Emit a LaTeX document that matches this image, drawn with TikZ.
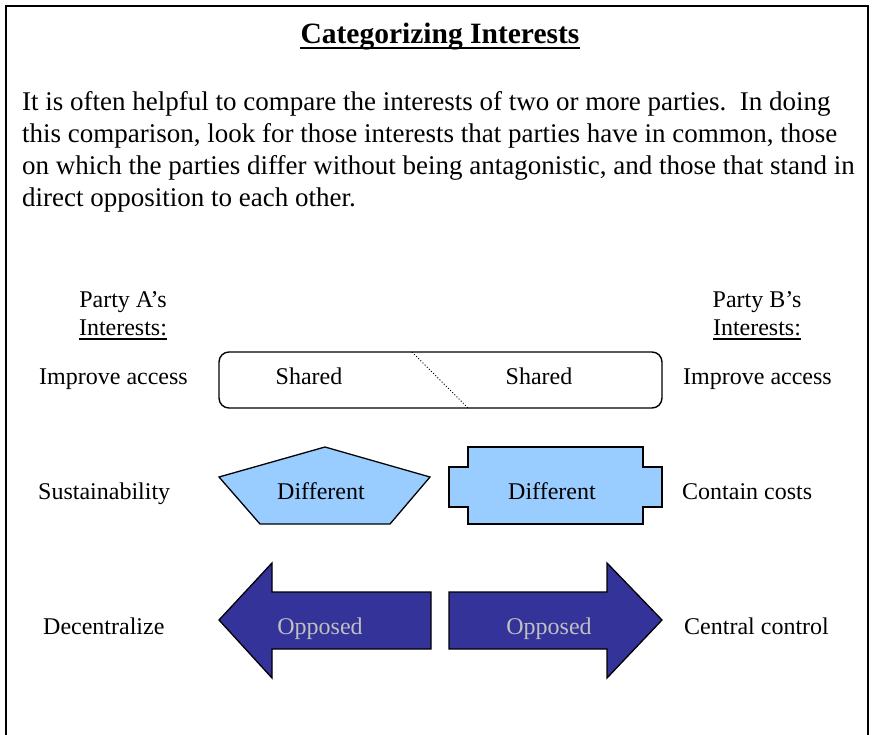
\documentclass[tikz,border=0pt]{standalone}
\usepackage{fontspec}
\setmainfont{Liberation Serif}
\definecolor{softblue}{HTML}{99CCFF}
\definecolor{deepblue}{HTML}{333399}
\definecolor{lightgrey}{HTML}{C0C0C0}
\begin{document}
\begin{tikzpicture}[x=1pt,y=-1pt,
  bodyline/.style={font=\fontsize{27}{32}\selectfont, inner sep=0pt, anchor=base west},
  lbl/.style={font=\fontsize{24}{28}\selectfont, inner sep=0pt, anchor=base},
  sidelbl/.style={lbl, anchor=base west},
  shapeline/.style={draw=black, line width=1.3pt, line join=miter},
  uline/.style={line width=1.2pt}]
\useasboundingbox (0,0) rectangle (875,735);

% open frame (no bottom edge)
\draw[line width=2pt] (6,735) -- (6,6) -- (868,6) -- (868,735);

% heading
\node[font=\bfseries\fontsize{29.5}{34}\selectfont, inner sep=0pt, anchor=base] (title) at (440,44) {Categorizing Interests};
\draw[line width=1.6pt] ([yshift=-4pt]title.base west) -- ([yshift=-4pt]title.base east);

% introductory paragraph
\node[bodyline] (p1) at (22,111) {It is often helpful to compare the interests of two or more parties.\ \ In doing};
\node[bodyline] (p2) at (22,143) {this comparison, look for those interests that parties have in common, those};
\node[bodyline] (p3) at (22,175) {on which the parties differ without being antagonistic, and those that stand in};
\node[bodyline] (p4) at (22,207) {direct opposition to each other.};

% column headings
\node[lbl] (pa) at (123,307) {Party A’s};
\node[lbl] (ia) at (123,335) {Interests:};
\draw[uline] ([yshift=-4pt]ia.base west) -- ([yshift=-4pt]ia.base east);
\node[lbl] (pb) at (757,307) {Party B’s};
\node[lbl] (ib) at (757,335) {Interests:};
\draw[uline] ([yshift=-4pt]ib.base west) -- ([yshift=-4pt]ib.base east);

% row 1: shared
\draw[line width=1.4pt, rounded corners=10pt] (219,352) rectangle (662,408);
\draw[dotted, line width=1pt] (412,352) -- (468,408);
\node[lbl] (s1) at (309,384) {Shared};
\node[lbl] (s2) at (539,384) {Shared};
\node[sidelbl] (la1) at (39,384) {Improve access};
\node[sidelbl] (lb1) at (683,384) {Improve access};

% row 2: different
\draw[shapeline, fill=softblue] (325,447) -- (430,477) -- (390,524) -- (260,524) -- (219,477) -- cycle;
\draw[shapeline, fill=softblue] (468,447) -- (643,447) -- (643,467) -- (662,467) -- (662,507) -- (643,507)
  -- (643,524) -- (468,524) -- (468,507) -- (449,507) -- (449,467) -- (468,467) -- cycle;
\node[lbl] (d1) at (321,499) {Different};
\node[lbl] (d2) at (552,499) {Different};
\node[sidelbl] (la2) at (38,499) {Sustainability};
\node[sidelbl] (lb2) at (682,499) {Contain costs};

% row 3: opposed
\draw[shapeline, fill=deepblue] (219,620) -- (272,563) -- (272,592) -- (431,592) -- (431,649) -- (272,649) -- (272,678) -- cycle;
\draw[shapeline, fill=deepblue] (449,592) -- (607,592) -- (607,563) -- (662,620) -- (607,678) -- (607,649) -- (449,649) -- cycle;
\node[lbl, text=lightgrey] (o1) at (320,634) {Opposed};
\node[lbl, text=lightgrey] (o2) at (549,634) {Opposed};
\node[sidelbl] (la3) at (43,634) {Decentralize};
\node[sidelbl] (lb3) at (684,634) {Central control};
\end{tikzpicture}
\end{document}
